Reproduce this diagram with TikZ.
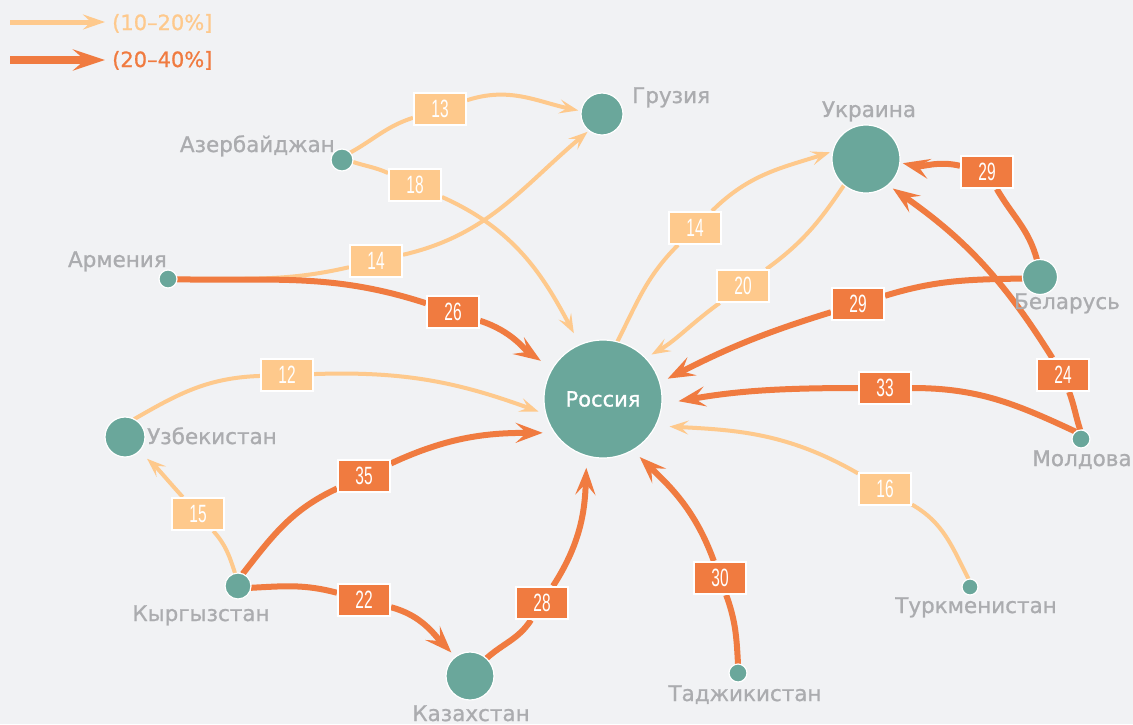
\documentclass[tikz,border=0pt]{standalone}
\usepackage{fontspec}
\setmainfont{DejaVu Sans}
\newfontfamily\ctryfont[FakeBold=0.9]{DejaVu Sans}
\newfontfamily\numfont[FakeStretch=0.62]{Liberation Sans}
\usetikzlibrary{arrows.meta}
\definecolor{bgc}{HTML}{F1F2F4}
\definecolor{lt}{RGB}{254,201,140}
\definecolor{dk}{RGB}{240,123,64}
\definecolor{teal}{RGB}{106,167,155}
\definecolor{gry}{HTML}{ABACAF}
\pgfdeclarelayer{bg}
\pgfdeclarelayer{edges}
\pgfsetlayers{bg,edges,main}
\tikzset{
  city/.style={circle, fill=teal, draw=white, line width=1.2pt, inner sep=0pt, outer sep=0pt},
  lt/.style={draw=lt, line width=4pt, -{Stealth[length=19pt,width=14pt,inset=8pt]}},
  dk/.style={draw=dk, line width=6pt, -{Stealth[length=27pt,width=20pt,inset=11pt]}},
  lbox/.style={rectangle, draw=white, line width=2pt, minimum width=52pt, minimum height=32pt, inner sep=0pt, text=white, font=\numfont\fontsize{25}{25}\selectfont},
  ltbox/.style={lbox, fill=lt},
  dkbox/.style={lbox, fill=dk},
  ctry/.style={text=gry, inner sep=0pt, font=\ctryfont\fontsize{21.5}{22}\selectfont},
  legtext/.style={inner sep=0pt, font=\ctryfont\fontsize{21}{21}\selectfont}
}
\begin{document}
\begin{tikzpicture}[x=1pt,y=1pt]
\useasboundingbox (0,0) rectangle (1133,-724);
\begin{pgfonlayer}{bg}
\fill[bgc] (0,0) rectangle (1133,-724);
\end{pgfonlayer}

% legend
\coordinate (lg1s) at (10,-22);
\coordinate (lg1e) at (105,-22);
\coordinate (lg2s) at (10,-60);
\coordinate (lg2e) at (105,-60);
\node[legtext, text=lt, anchor=base west] (lg1t) at (112,-30) {(10–20\%]};
\node[legtext, text=dk, anchor=base west] (lg2t) at (112,-67) {(20–40\%]};
\draw[lt, line width=5pt, -{Stealth[length=22pt,width=15pt,inset=8pt]}] (lg1s) -- (lg1e);
\draw[dk, line width=8pt, -{Stealth[length=32pt,width=21pt,inset=12pt]}] (lg2s) -- (lg2e);

% countries
\node[city, minimum size=118pt, text=white, font=\ctryfont\fontsize{21}{21}\selectfont] (rus) at (603,-399) {Россия};
\node[city, minimum size=68pt] (ukr) at (866,-159) {};
\node[city, minimum size=42pt] (gru) at (602,-114) {};
\node[city, minimum size=22pt] (azr) at (342,-160) {};
\node[city, minimum size=18pt] (arm) at (168,-279) {};
\node[city, minimum size=40pt] (uzb) at (125,-437) {};
\node[city, minimum size=26pt] (kyr) at (238,-586) {};
\node[city, minimum size=48pt] (kaz) at (470,-676) {};
\node[city, minimum size=18pt] (taj) at (738,-673) {};
\node[city, minimum size=16pt] (tkm) at (970,-587) {};
\node[city, minimum size=18pt] (mol) at (1081,-439) {};
\node[city, minimum size=35pt] (bel) at (1040,-277) {};

\node[ctry, anchor=base west] (tgru) at (632,-103) {Грузия};
\node[ctry, anchor=base] (tukr) at (869,-117) {Украина};
\node[ctry, anchor=base east] (tazr) at (335,-152) {Азербайджан};
\node[ctry, anchor=base east] (tarm) at (167,-267) {Армения};
\node[ctry, anchor=base west] (tuzb) at (147,-444) {Узбекистан};
\node[ctry, anchor=base] (tkyr) at (201,-621) {Кыргызстан};
\node[ctry, anchor=base] (tkaz) at (471,-721) {Казахстан};
\node[ctry, anchor=base] (ttaj) at (745,-701) {Таджикистан};
\node[ctry, anchor=base] (ttkm) at (976,-613) {Туркменистан};
\node[ctry, anchor=base] (tmol) at (1082,-466) {Молдова};
\node[ctry, anchor=base] (tbel) at (1067,-309) {Беларусь};

% value labels
\node[ltbox] (l13) at (440,-109) {13};
\node[ltbox] (l18) at (415,-185) {18};
\node[ltbox] (l14a) at (376,-261) {14};
\node[dkbox] (l26) at (453,-312) {26};
\node[ltbox] (l12) at (287,-375) {12};
\node[ltbox] (l15) at (198,-514) {15};
\node[dkbox] (l35) at (364,-476) {35};
\node[dkbox] (l22) at (364,-600) {22};
\node[dkbox] (l28) at (542,-603) {28};
\node[dkbox] (l30) at (720,-578) {30};
\node[ltbox] (l16) at (885,-489) {16};
\node[dkbox] (l33) at (885,-388) {33};
\node[dkbox] (l24) at (1063,-375) {24};
\node[dkbox] (l29a) at (858,-304) {29};
\node[dkbox] (l29b) at (987,-172) {29};
\node[ltbox] (l14b) at (695,-228) {14};
\node[ltbox] (l20) at (743,-286) {20};

\begin{pgfonlayer}{edges}
\draw[lt, shorten >=3pt] (azr.42) to[out=29,in=198] (l13) to[out=18,in=168] (gru.172);
\draw[lt, shorten >=13pt] (azr.-10) to[out=-18,in=156] (l18) to[out=-24,in=118] (rus.113);
\draw[lt, shorten >=2pt] (arm.0) to[out=1,in=193] (l14a) to[out=13,in=220] (gru.232);
\draw[dk, shorten >=14pt] (arm.-2) to[out=-1,in=162] (l26) to[out=-18,in=146] (rus.149);
\draw[lt, shorten >=8pt] (uzb.63) to[out=30,in=182] (l12) to[out=2,in=160] (rus.195);
\draw[lt, shorten >=11pt] (kyr.103) to[out=108,in=312] (l15) to[out=132,in=318] (uzb.314);
\draw[dk, shorten >=12pt] (kyr.69) to[out=52,in=205] (l35) to[out=25,in=180] (rus.215);
\draw[dk, shorten >=6pt] (kyr.-8) to[out=3,in=165] (l22) to[out=-15,in=134] (kaz.127);
\draw[dk, shorten >=12pt] (kaz.47) to[out=42,in=237] (l28) to[out=57,in=268] (rus.254);
\draw[dk, shorten >=10pt] (taj.90) to[out=93,in=290] (l30) to[out=110,in=316] (rus.300);
\draw[lt, shorten >=14pt] (tkm.100) to[out=117,in=330] (l16) to[out=150,in=357] (rus.333);
\draw[dk, shorten >=17pt] (mol.126) to[out=155,in=0] (l33) to[out=180,in=10] (rus.355);
\draw[dk, shorten >=6pt] (mol.95) to[out=108,in=290] (l24) to[out=122,in=325] (ukr.310);
\draw[dk, shorten >=9pt] (bel.185) to[out=181,in=17] (l29a) to[out=197,in=27] (rus.16);
\draw[dk, shorten >=3pt] (bel.100) to[out=105,in=300] (l29b) to[out=167,in=348] (ukr.354);
\draw[lt, shorten >=3pt] (rus.76) to[out=63,in=225] (l14b) to[out=45,in=198] (ukr.167);
\draw[lt, shorten >=7pt] (ukr.230) to[out=236,in=36] (l20) to[out=216,in=30] (rus.44);
\end{pgfonlayer}
\end{tikzpicture}
\end{document}
